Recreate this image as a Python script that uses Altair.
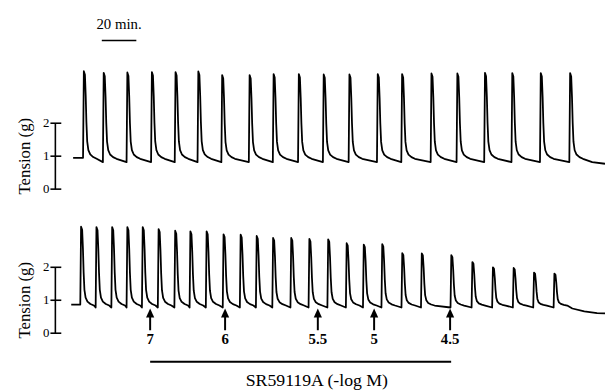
import altair as alt
import pandas as pd

# ---------------- data ----------------
# time in minutes (trace start of top record = 0), tension in g
TOP_PEAK_T = [6.2, 17.7, 31.4, 45.6, 59.3, 72.5, 86.3, 102.2, 116.1, 130.7,
              145.1, 160.0, 176.4, 190.5, 207.5, 222.5, 238.5, 254.3, 270.8, 287.8]
TOP_PEAK_G = [3.58, 3.53, 3.54, 3.55, 3.55, 3.57, 3.46, 3.46, 3.49, 3.49,
              3.48, 3.48, 3.49, 3.49, 3.51, 3.51, 3.53, 3.52, 3.52, 3.52]
TOP_START = (0.0, 0.95)
TOP_POST, TOP_PRE = 0.92, 0.82
TOP_END_T = [300.6, 308.0]
TOP_END_G = [0.82, 0.77]

BOT_PEAK_T = [4.6, 13.5, 22.6, 31.4, 40.3, 49.5, 59.1, 67.9, 77.3, 87.1,
              97.0, 106.3, 115.8, 126.3, 136.8, 147.7, 158.4, 168.3, 179.0, 190.6,
              201.9, 219.0, 231.2, 243.1, 255.1, 266.9, 278.7]
BOT_PEAK_G = [3.23, 3.22, 3.22, 3.22, 3.22, 3.16, 3.11, 3.09, 3.09, 3.00,
              2.99, 2.95, 2.89, 2.89, 2.86, 2.85, 2.73, 2.69, 2.70, 2.43,
              2.42, 2.37, 2.16, 2.00, 1.98, 1.84, 1.81]
BOT_START = (-1.1, 0.87)
BOT_POST, BOT_PRE = 0.84, 0.78
BOT_END_T = [289.1, 296.0, 303.4, 308.0]
BOT_END_G = [0.75, 0.66, 0.61, 0.60]

# contraction waveform (offset in px from the peak, fraction of amplitude)
SHAPE_DX = [-0.8, 0.0, 1.1, 1.9, 2.6, 3.4, 4.6, 6.5, 9.5, 13.0]
SHAPE_FR = [0.0, 1.0, 0.96, 0.72, 0.42, 0.20, 0.10, 0.05, 0.02, 0.0]

# drug additions, SR59119A (-log M)
DOSE_T = [44.6, 88.0, 141.7, 174.3, 218.3]
DOSE_LABEL = ["7", "6", "5.5", "5", "4.5"]
DRUG_BAR = (44.6, 218.9)
DRUG_TEXT = "SR59119A (-log M)"

SCALE_MIN = 20
SCALE_START = 16.6
TICKS_G = [0, 1, 2]
Y_TITLE = "Tension (g)"

# ---------------- layout constants ----------------
PX_PER_MIN = 1.75
PX_PER_G = 33.4
TOP_OFFSET = 146 / PX_PER_G            # vertical gap of the two records, in g
X_DOMAIN = [(8 - 74) / PX_PER_MIN, (613 - 74) / PX_PER_MIN]
Y_DOMAIN = [(335 - 391) / PX_PER_G, (335 - 8) / PX_PER_G]
FONT = "Liberation Serif, Times New Roman, Times, DejaVu Serif, serif"

def build(start, pt, pg, post, pre, end_t, end_g, offset, name):
    rows = [start]
    for i, (t, g) in enumerate(zip(pt, pg)):
        nxt = pt[i + 1] if i + 1 < len(pt) else None
        before = pre if i > 0 else start[1]
        rows.append((t + SHAPE_DX[0] / PX_PER_MIN, before))
        for dx, fr in zip(SHAPE_DX[1:], SHAPE_FR[1:]):
            tt = t + dx / PX_PER_MIN
            if nxt is not None and tt >= nxt + (SHAPE_DX[0] - 1.0) / PX_PER_MIN:
                break
            rows.append((tt, post + fr * (g - post)))
    rows += list(zip(end_t, end_g))
    return pd.DataFrame({"t": [r[0] for r in rows],
                         "v": [r[1] + offset for r in rows],
                         "panel": name,
                         "i": range(len(rows))})

trace = pd.concat([
    build(TOP_START, TOP_PEAK_T, TOP_PEAK_G, TOP_POST, TOP_PRE, TOP_END_T, TOP_END_G, TOP_OFFSET, "top"),
    build(BOT_START, BOT_PEAK_T, BOT_PEAK_G, BOT_POST, BOT_PRE, BOT_END_T, BOT_END_G, 0.0, "bottom"),
])

xs = alt.Scale(domain=X_DOMAIN, nice=False, zero=False)
ys = alt.Scale(domain=Y_DOMAIN, nice=False, zero=False)
def X(f): return alt.X(f, type="quantitative", scale=xs, axis=None)
def Y(f): return alt.Y(f, type="quantitative", scale=ys, axis=None)

def px_t(px): return (px - 74) / PX_PER_MIN

lines = alt.Chart(trace).mark_line(color="black", strokeWidth=1.8, clip=True, strokeJoin="round").encode(
    x=X("t"), y=Y("v"), detail="panel:N", order="i:Q")

# tension scale bars
offs = [TOP_OFFSET, 0.0]
bar_df = pd.DataFrame({"x": [px_t(56)] * 2, "y": [o + min(TICKS_G) for o in offs],
                       "y2": [o + max(TICKS_G) for o in offs]})
bars = alt.Chart(bar_df).mark_rule(color="black", strokeWidth=1.6).encode(x=X("x"), y=Y("y"), y2="y2")
tick_df = pd.DataFrame([{"x": px_t(51), "x2": px_t(62), "y": o + g, "lab": str(g)}
                        for o in offs for g in TICKS_G])
ticks = alt.Chart(tick_df).mark_rule(color="black", strokeWidth=1.6).encode(x=X("x"), x2="x2", y=Y("y"))
tick_df["xl"] = px_t(50)
tlabels = alt.Chart(tick_df).mark_text(align="right", baseline="middle", font=FONT, fontSize=13,
                                       color="black").encode(x=X("xl"), y=Y("y"), text="lab:N")
title_df = pd.DataFrame({"x": [px_t(25)] * 2, "y": [o + 1.0 for o in offs], "lab": [Y_TITLE] * 2})
titles = alt.Chart(title_df).mark_text(angle=270, align="center", baseline="middle", font=FONT,
                                       fontSize=17, color="black").encode(x=X("x"), y=Y("y"), text="lab:N")

# time scale bar
sb_y = TOP_OFFSET + (189 - 38.3) / PX_PER_G
sb_df = pd.DataFrame({"x": [SCALE_START], "x2": [SCALE_START + SCALE_MIN], "y": [sb_y],
                      "xm": [SCALE_START + SCALE_MIN / 2], "ty": [TOP_OFFSET + (189 - 27) / PX_PER_G],
                      "lab": [f"{SCALE_MIN} min."]})
sbar = alt.Chart(sb_df).mark_rule(color="black", strokeWidth=1.6).encode(x=X("x"), x2="x2", y=Y("y"))
stext = alt.Chart(sb_df).mark_text(align="center", baseline="alphabetic", font=FONT, fontSize=15,
                                   color="black").encode(x=X("xm"), y=Y("ty"), text="lab:N")

# dose arrows
dose_df = pd.DataFrame({"t": DOSE_T, "lab": DOSE_LABEL,
                        "y0": (335 - 332) / PX_PER_G, "y1": (335 - 316) / PX_PER_G,
                        "yh": (335 - 314.5) / PX_PER_G, "yl": (335 - 341) / PX_PER_G})
shafts = alt.Chart(dose_df).mark_rule(color="black", strokeWidth=2).encode(x=X("t"), y=Y("y0"), y2="y1")
heads = alt.Chart(dose_df).mark_point(shape="M0,-1L0.9,1L-0.9,1Z", filled=True, size=85,
                                      color="black", opacity=1, strokeWidth=0).encode(x=X("t"), y=Y("yh"))
dlabels = alt.Chart(dose_df).mark_text(align="center", baseline="middle", font=FONT, fontSize=15,
                                       fontWeight="bold", color="black").encode(x=X("t"), y=Y("yl"), text="lab:N")

drug_df = pd.DataFrame({"x": [DRUG_BAR[0]], "x2": [DRUG_BAR[1]], "y": [(335 - 364) / PX_PER_G],
                        "xm": [px_t(321)], "ty": [(335 - 389) / PX_PER_G], "lab": [DRUG_TEXT]})
dbar = alt.Chart(drug_df).mark_rule(color="black", strokeWidth=2).encode(x=X("x"), x2="x2", y=Y("y"))
dtext = alt.Chart(drug_df).mark_text(align="center", baseline="alphabetic", font=FONT, fontSize=18,
                                     color="black").encode(x=X("xm"), y=Y("ty"), text="lab:N")

chart = alt.layer(lines, bars, ticks, tlabels, titles, sbar, stext, shafts, heads, dlabels, dbar, dtext).properties(
    width=605, height=383, autosize="none", padding=0
).configure_view(stroke=None)

chart.save("out.html", embed_options={"renderer": "svg", "actions": False})
